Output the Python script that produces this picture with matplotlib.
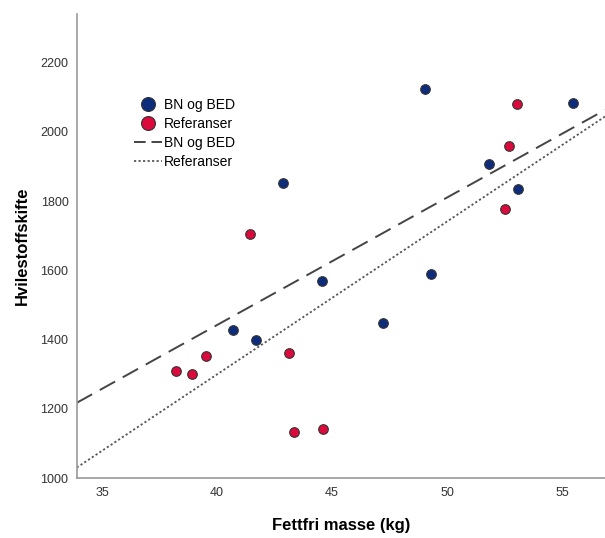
import matplotlib.pyplot as plt
from matplotlib.lines import Line2D

plt.rcParams['font.family'] = ['Liberation Sans', 'DejaVu Sans']

# BN og BED
bn_x = [49.06, 55.50, 51.84, 53.07, 42.87, 49.30, 44.57, 47.22, 40.70, 41.71]
bn_y = [2124, 2083, 1906, 1834, 1852, 1591, 1568, 1447, 1429, 1398]

# Referanser
ref_x = [53.03, 52.68, 52.52, 41.45, 39.52, 43.13, 38.20, 38.91, 43.36, 44.62]
ref_y = [2080, 1958, 1778, 1704, 1354, 1361, 1311, 1302, 1133, 1143]

# fit lines (end points)
fit_x = [33.9, 56.87]
bn_fit = [1218, 2063]
ref_fit = [1031, 2044]

xticks = [35, 40, 45, 50, 55]
yticks = [1000, 1200, 1400, 1600, 1800, 2000, 2200]

blue = '#0d2c7c'
red = '#dc0a3c'

fig = plt.figure(figsize=(6.05, 5.38), dpi=100)
ax = fig.add_axes([0.127, 0.111, 0.873, 0.863])

ax.plot(fit_x, bn_fit, color='#444444', lw=1.4, dashes=(9, 4.5))
ax.plot(fit_x, ref_fit, color='#555555', lw=1.3, dashes=(1.2, 1.3))

ax.scatter(bn_x, bn_y, s=48, color=blue, edgecolor='#333333', lw=0.8, zorder=3)
ax.scatter(ref_x, ref_y, s=48, color=red, edgecolor='#333333', lw=0.8, zorder=3)

ax.set_xlim(fit_x[0], fit_x[1])
ax.set_ylim(1000, 2340)
ax.set_xticks(xticks)
ax.set_yticks(yticks)
ax.tick_params(length=0, labelsize=9, colors='#333333', pad=6)

for s in ['top', 'right']:
    ax.spines[s].set_visible(False)
for s in ['left', 'bottom']:
    ax.spines[s].set_color('#999999')
    ax.spines[s].set_linewidth(1.2)

ax.set_xlabel('Fettfri masse (kg)', fontsize=12, fontweight='bold', labelpad=14)
ax.set_ylabel('Hvilestoffskifte', fontsize=12, fontweight='bold', labelpad=8)

handles = [
    Line2D([], [], ls='none', marker='o', ms=10, mfc=blue, mec='#333333', mew=0.8),
    Line2D([], [], ls='none', marker='o', ms=10, mfc=red, mec='#333333', mew=0.8),
    Line2D([], [], color='#444444', lw=1.4, dashes=(6, 3)),
    Line2D([], [], color='#555555', lw=1.3, dashes=(1.2, 1.3)),
]
labels = ['BN og BED', 'Referanser', 'BN og BED', 'Referanser']
ax.legend(handles, labels, loc='upper left', bbox_to_anchor=(0.095, 0.834),
          frameon=False, fontsize=10, handlelength=2.0, handletextpad=0.15,
          labelspacing=0.35, borderpad=0)

fig.savefig('out.png', dpi=100)
